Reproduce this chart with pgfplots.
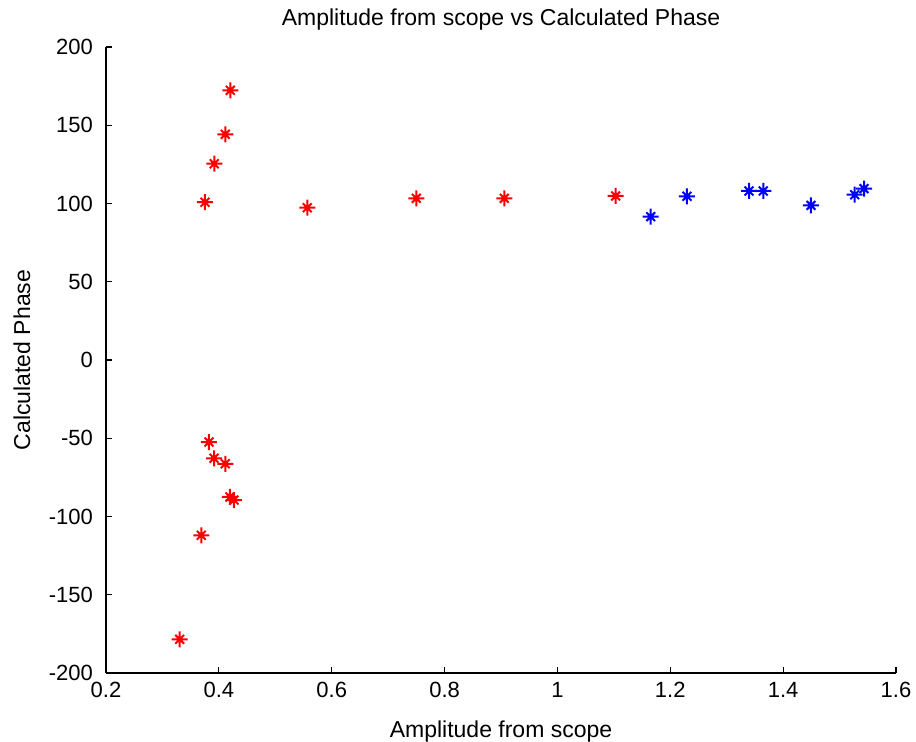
\documentclass[border=0pt]{standalone}
\usepackage{pgfplots}
\pgfplotsset{compat=1.18}
\usepackage{fontspec}
\setmainfont{Liberation Sans}
\pgfdeclareplotmark{mstar}{%
  \pgfpathmoveto{\pgfqpoint{-\pgfplotmarksize}{0pt}}%
  \pgfpathlineto{\pgfqpoint{\pgfplotmarksize}{0pt}}%
  \pgfpathmoveto{\pgfqpoint{0pt}{-\pgfplotmarksize}}%
  \pgfpathlineto{\pgfqpoint{0pt}{\pgfplotmarksize}}%
  \pgfpathmoveto{\pgfqpoint{-0.55\pgfplotmarksize}{-0.55\pgfplotmarksize}}%
  \pgfpathlineto{\pgfqpoint{0.55\pgfplotmarksize}{0.55\pgfplotmarksize}}%
  \pgfpathmoveto{\pgfqpoint{-0.55\pgfplotmarksize}{0.55\pgfplotmarksize}}%
  \pgfpathlineto{\pgfqpoint{0.55\pgfplotmarksize}{-0.55\pgfplotmarksize}}%
  \pgfusepathqstroke}
\begin{document}
\begin{tikzpicture}
\begin{axis}[
  scale only axis,
  width=395pt, height=313pt,
  xmin=0.2, xmax=1.6, ymin=-200, ymax=200,
  xtick={0.2,0.4,...,1.6},
  xticklabels={0.2,0.4,0.6,0.8,1,1.2,1.4,1.6},
  ytick={-200,-150,...,200},
  axis x line*=bottom, axis y line*=left,
  axis line style={line width=0.6pt, -},
  tick align=inside,
  major tick length=3pt,
  tick style={line width=0.6pt, black},
  /pgf/number format/assume math mode=true,
  ticklabel style={font=\fontsize{11}{13}\selectfont},
  xticklabel style={yshift=-1pt},
  yticklabel style={xshift=-3pt},
  title={Amplitude from scope vs Calculated Phase},
  title style={font=\fontsize{11.5}{13}\selectfont, at={(axis description cs:0.5,1.0239)}, anchor=center},
  xlabel={Amplitude from scope},
  ylabel={Calculated Phase},
  label style={font=\fontsize{11.5}{13}\selectfont},
  xlabel style={at={(axis description cs:0.5,-0.093)}, anchor=center},
  ylabel style={at={(axis description cs:-0.1063,0.5)}, anchor=center},
]
\addplot[only marks, mark=mstar, mark size=4pt, red, line width=1pt] coordinates {
(0.3306,-178.5) (0.3689,-112.0) (0.3825,-52.4) (0.3914,-62.8) (0.4114,-66.3)
(0.4197,-87.5) (0.4268,-89.5) (0.3754,100.8) (0.3919,125.4) (0.4114,144.2)
(0.4203,172.3) (0.5567,97.3) (0.7499,103.3) (0.9058,103.3) (1.1032,104.8)
};
\addplot[only marks, mark=mstar, mark size=4pt, blue, line width=1pt] coordinates {
(1.1653,91.6) (1.2296,104.6) (1.3395,108.0) (1.3648,108.0) (1.4493,98.8)
(1.5268,105.6) (1.5433,109.5)
};
\end{axis}
\pgfresetboundingbox
\path ([shift={(-53pt,-34.5pt)}]current axis.south west) rectangle ([shift={(10pt,23.5pt)}]current axis.north east);
\end{tikzpicture}
\end{document}
